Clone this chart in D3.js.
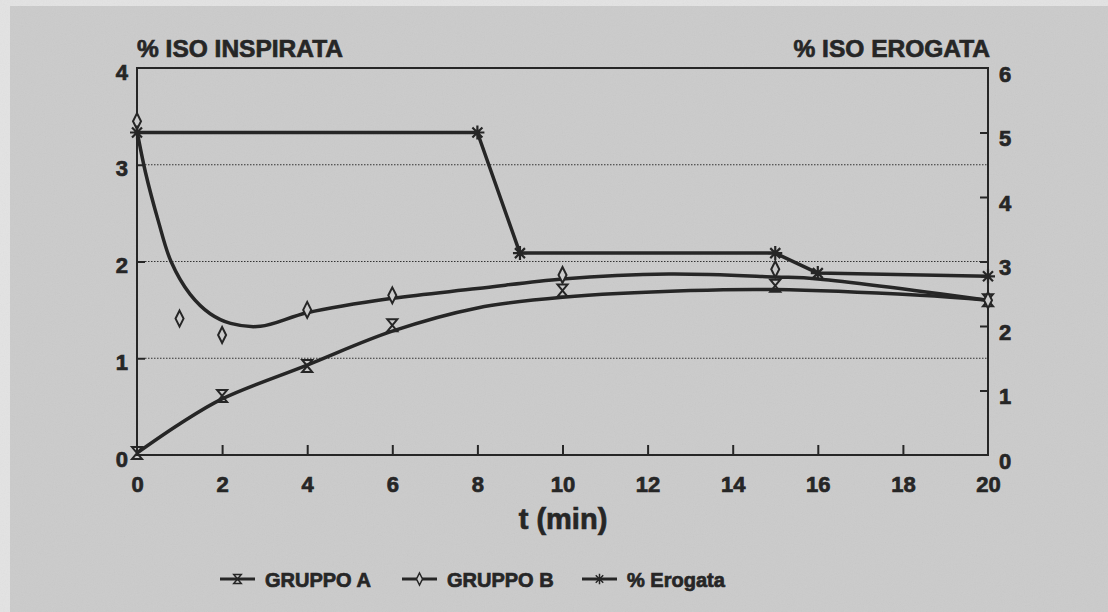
<!DOCTYPE html>
<html>
<head>
<meta charset="utf-8">
<script src="https://cdn.jsdelivr.net/npm/d3@7"></script>
<style>
  html, body { margin: 0; padding: 0; background: #e2e2e2; }
  svg { display: block; }
  text { font-family: "Liberation Sans", Arial, sans-serif; font-weight: bold; fill: #262626;
         stroke: #262626; stroke-width: 0.7px; }
</style>
</head>
<body>
<svg id="chart" width="1108" height="612"></svg>
<script>
"use strict";

// measured points
const tA = [0, 2, 4, 6, 10, 15, 20];
const gruppoA = [0.02, 0.61, 0.92, 1.34, 1.70, 1.75, 1.60];
const tB = [0, 1, 2, 4, 6, 10, 15, 20];
const gruppoB = [3.45, 1.41, 1.24, 1.50, 1.65, 1.86, 1.92, 1.60];
const tE = [0, 8, 9, 15, 16, 20];
const erogata = [5.0, 5.0, 3.13, 3.13, 2.82, 2.77];

// fitted curves
const fitTA = [0, 1, 2, 4, 6, 8, 10, 13, 15, 18.4, 20];
const fitA = [0.02, 0.32, 0.58, 0.93, 1.28, 1.52, 1.63, 1.70, 1.71, 1.65, 1.60];
const fitTB = [0, 0.2, 0.5, 0.8, 1.25, 1.72, 2.2, 2.9, 4, 6, 8, 10, 12.5, 15, 16, 20];
const fitB = [3.35, 2.92, 2.42, 2.0, 1.66, 1.46, 1.36, 1.33, 1.47, 1.62, 1.72, 1.82, 1.87, 1.84, 1.82, 1.60];

const xTicks = [0, 2, 4, 6, 8, 10, 12, 14, 16, 18, 20];
const leftTicks = [0, 1, 2, 3, 4];
const rightTicks = [0, 1, 2, 3, 4, 5, 6];
const gridValues = [1, 2, 3];

const legendItems = [
    { label: 'GRUPPO A', marker: 'hourglass' },
    { label: 'GRUPPO B', marker: 'diamond' },
    { label: '% Erogata', marker: 'star' }
];

const ink = '#262626';
const paper = '#cbcbcb';
const svg = d3.select('#chart');

// paper background
svg.append('rect').attr('width', 1108).attr('height', 612).attr('fill', '#e3e3e3');
svg.append('rect').attr('x', 10).attr('y', 6).attr('width', 1098).attr('height', 606).attr('fill', paper);
const defs = svg.append('defs');
const noise = defs.append('filter').attr('id', 'grain');
noise.append('feTurbulence').attr('type', 'fractalNoise').attr('baseFrequency', 0.9).attr('numOctaves', 2).attr('seed', 3);
noise.append('feColorMatrix').attr('type', 'saturate').attr('values', 0);
svg.append('rect').attr('x', 10).attr('y', 6).attr('width', 1098).attr('height', 606)
    .attr('filter', 'url(#grain)').attr('opacity', 0.08);

const x = d3.scaleLinear().domain([0, 20]).range([137, 988]);
const yL = d3.scaleLinear().domain([0, 4]).range([455, 68]);
const yR = d3.scaleLinear().domain([0, 6]).range([455, 68]);

// grid
svg.append('g').selectAll('line').data(gridValues).enter().append('line')
    .attr('x1', x(0) + 8).attr('x2', x(20))
    .attr('y1', d => yL(d)).attr('y2', d => yL(d))
    .attr('stroke', '#333').attr('stroke-width', 1).attr('stroke-dasharray', '1.5,1.5');

// axes
const styleAxis = (g) => {
    g.select('.domain').remove();
    g.selectAll('.tick line').attr('stroke', ink).attr('stroke-width', 2);
    g.selectAll('.tick text').style('font-size', '22px').attr('fill', ink);
};

svg.append('g').attr('transform', 'translate(0,455)')
    .call(d3.axisBottom(x).tickValues(xTicks).tickSize(-10).tickPadding(21).tickFormat(d3.format('d')))
    .call(styleAxis)
    .call(g => g.selectAll('.tick line').filter(d => d === 0 || d === 20).remove());

svg.append('g').attr('transform', 'translate(137,0)')
    .call(d3.axisLeft(yL).tickValues(leftTicks).tickSize(-8).tickPadding(9).tickFormat(d3.format('d')))
    .call(styleAxis)
    .call(g => g.selectAll('.tick text').attr('dy', '0.5em'))
    .call(g => g.selectAll('.tick line').filter(d => d === 0 || d === 4).remove());

svg.append('g').attr('transform', 'translate(988,0)')
    .call(d3.axisRight(yR).tickValues(rightTicks).tickSize(-8).tickPadding(11).tickFormat(d3.format('d')))
    .call(styleAxis)
    .call(g => g.selectAll('.tick text').attr('dy', '0.6em'))
    .call(g => g.selectAll('.tick line').filter(d => d === 0 || d === 6).remove());

// frame
svg.append('rect')
    .attr('x', x(0)).attr('y', yL(4))
    .attr('width', x(20) - x(0)).attr('height', yL(0) - yL(4))
    .attr('fill', 'none').attr('stroke', ink).attr('stroke-width', 2);

// titles
svg.append('text').attr('x', 137).attr('y', 57).style('font-size', '24.5px').text('% ISO INSPIRATA');
svg.append('text').attr('x', 990).attr('y', 57).attr('text-anchor', 'end').style('font-size', '24.5px').text('% ISO EROGATA');
svg.append('text').attr('x', 563).attr('y', 529).attr('text-anchor', 'middle').style('font-size', '29px').text('t (min)');

// lines
const fitLine = (ts, vs, y) => d3.line().curve(d3.curveCatmullRom.alpha(0.5))
    .x((d, i) => x(ts[i])).y(d => y(d))(vs);

svg.append('path').attr('d', fitLine(fitTA, fitA, yL))
    .attr('fill', 'none').attr('stroke', ink).attr('stroke-width', 3.5).attr('stroke-linejoin', 'round');
svg.append('path').attr('d', fitLine(fitTB, fitB, yL))
    .attr('fill', 'none').attr('stroke', ink).attr('stroke-width', 3.5).attr('stroke-linejoin', 'round');
svg.append('path')
    .attr('d', d3.line().x((d, i) => x(tE[i])).y(d => yR(d))(erogata))
    .attr('fill', 'none').attr('stroke', ink).attr('stroke-width', 3.5).attr('stroke-linejoin', 'round');

// markers
const markerPath = {
    hourglass: 'M-5,-6L5,-6L-5,6L5,6Z',
    diamond: 'M0,-8L4,0L0,8L-4,0Z',
    star: 'M-7,0L7,0M0,-7L0,7M-5,-5L5,5M-5,5L5,-5'
};
const drawMarkers = (ts, vs, y, kind) => {
    svg.append('g').selectAll('path').data(vs).enter().append('path')
        .attr('transform', (d, i) => `translate(${x(ts[i])},${y(d)})`)
        .attr('d', markerPath[kind])
        .attr('fill', kind === 'diamond' ? paper : 'none')
        .attr('stroke', ink)
        .attr('stroke-width', kind === 'star' ? 2.2 : 2);
};
drawMarkers(tA, gruppoA, yL, 'hourglass');
drawMarkers(tB, gruppoB, yL, 'diamond');
drawMarkers(tE, erogata, yR, 'star');

// legend
const legendX = [220, 402, 582];
const legend = svg.append('g').selectAll('g').data(legendItems).enter().append('g')
    .attr('transform', (d, i) => `translate(${legendX[i]},579)`);
legend.append('line').attr('x1', 0).attr('x2', 35).attr('y1', 0).attr('y2', 0)
    .attr('stroke', ink).attr('stroke-width', 3);
legend.append('path').attr('transform', 'translate(17.5,0) scale(0.75)')
    .attr('d', d => markerPath[d.marker])
    .attr('fill', d => d.marker === 'diamond' ? paper : 'none')
    .attr('stroke', ink).attr('stroke-width', 2);
legend.append('text').attr('x', 45).attr('y', 8).style('font-size', '20px').text(d => d.label);
</script>
</body>
</html>
